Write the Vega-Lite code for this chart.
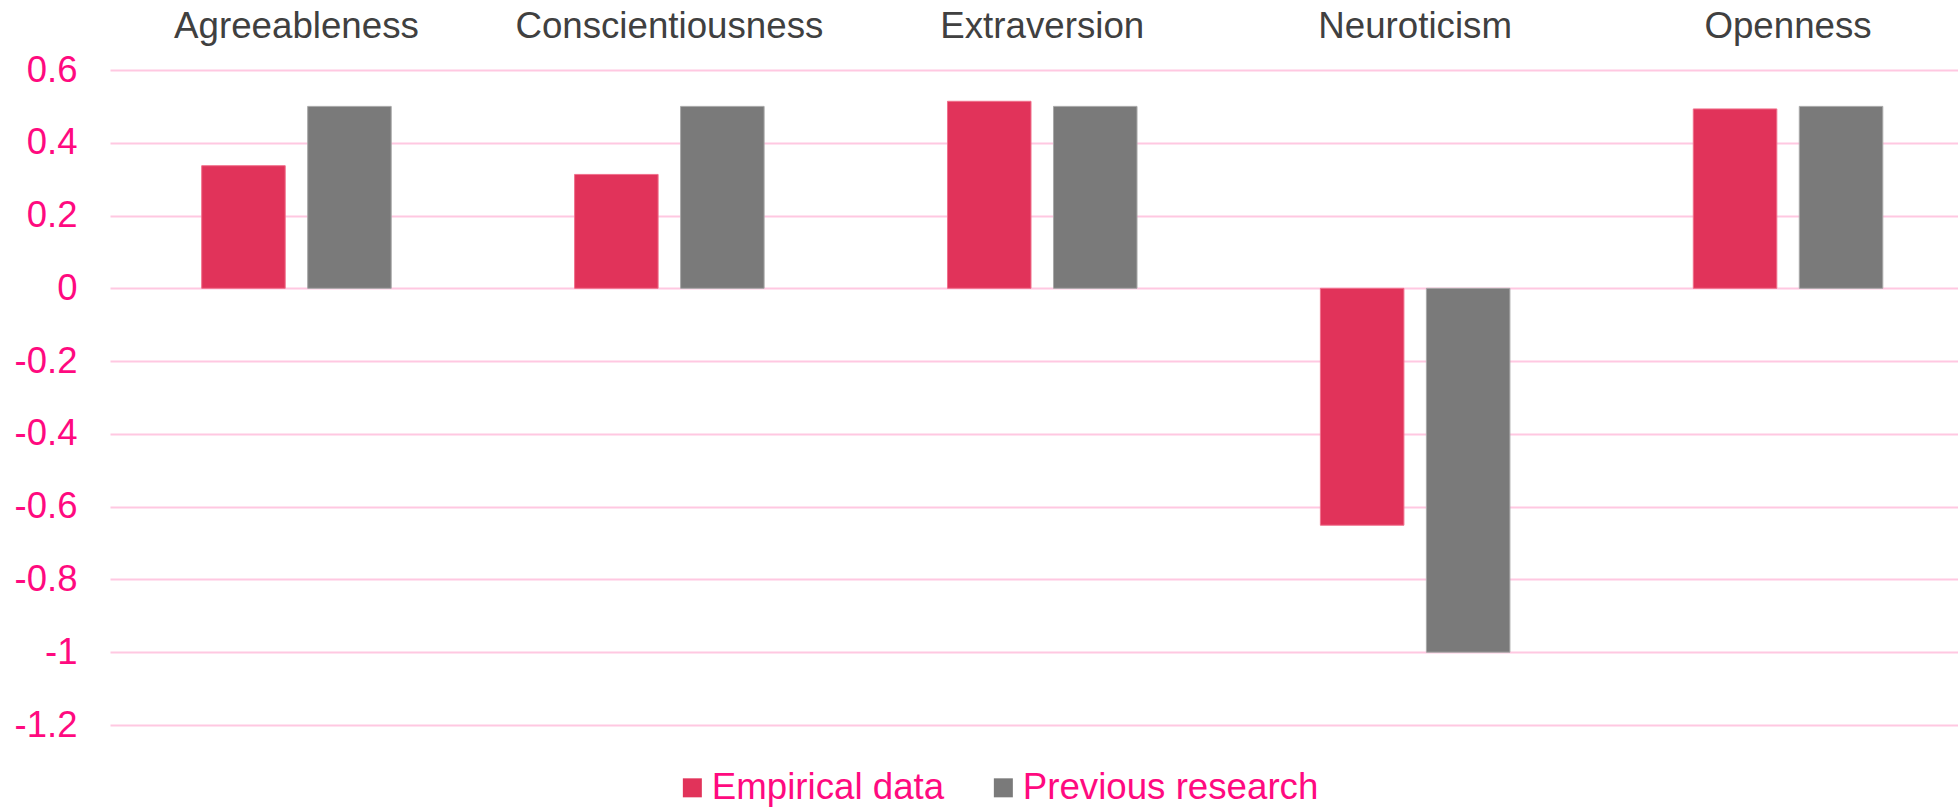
{
  "$schema": "https://vega.github.io/schema/vega-lite/v6.json",
  "width": 1848,
  "height": 655,
  "autosize": {"type": "none"},
  "padding": {"left": 110, "top": 70, "right": 0, "bottom": 82},
  "background": "white",
  "data": {
    "values": [
      {"trait": "Agreeableness", "series": "Empirical data", "value": 0.337},
      {"trait": "Agreeableness", "series": "Previous research", "value": 0.5},
      {"trait": "Conscientiousness", "series": "Empirical data", "value": 0.313},
      {"trait": "Conscientiousness", "series": "Previous research", "value": 0.5},
      {"trait": "Extraversion", "series": "Empirical data", "value": 0.514},
      {"trait": "Extraversion", "series": "Previous research", "value": 0.5},
      {"trait": "Neuroticism", "series": "Empirical data", "value": -0.651},
      {"trait": "Neuroticism", "series": "Previous research", "value": -1.0},
      {"trait": "Openness", "series": "Empirical data", "value": 0.493},
      {"trait": "Openness", "series": "Previous research", "value": 0.5}
    ]
  },
  "mark": {"type": "bar", "strokeWidth": 1},
  "encoding": {
    "x": {
      "field": "trait",
      "type": "nominal",
      "sort": null,
      "scale": {"range": [0, 1864.5], "paddingInner": 0, "paddingOuter": 0},
      "axis": {
        "orient": "top",
        "title": null,
        "domain": false,
        "ticks": false,
        "tickSize": 0,
        "labelPadding": 25,
        "labelAngle": 0,
        "labelLimit": 0,
        "labelFont": "Liberation Sans",
        "labelFontSize": 36.7,
        "labelColor": "#404040",
        "grid": false
      }
    },
    "xOffset": {
      "field": "series",
      "type": "nominal",
      "scale": {"paddingInner": 0.212, "paddingOuter": 0.865}
    },
    "y": {
      "field": "value",
      "type": "quantitative",
      "scale": {"domain": [-1.2, 0.6], "nice": false, "zero": false},
      "axis": {
        "title": null,
        "values": [-1.2, -1, -0.8, -0.6, -0.4, -0.2, 0, 0.2, 0.4, 0.6],
        "labelExpr": "'' + round(datum.value * 10) / 10",
        "domain": false,
        "ticks": false,
        "tickSize": 0,
        "labelPadding": 33,
        "labelLimit": 0,
        "labelFont": "Liberation Sans",
        "labelFontSize": 36.5,
        "labelColor": "#FF0A7F",
        "grid": true,
        "gridColor": "#FFC8E1",
        "gridWidth": 2
      }
    },
    "color": {
      "field": "series",
      "type": "nominal",
      "scale": {"domain": ["Empirical data", "Previous research"], "range": ["#E1335A", "#7A7A7A"]},
      "legend": {
        "title": null,
        "orient": "none",
        "direction": "horizontal",
        "legendX": 564,
        "legendY": 699,
        "symbolType": "square",
        "symbolSize": 361,
        "symbolStrokeWidth": 0,
        "labelFont": "Liberation Sans",
        "labelFontSize": 36.7,
        "labelLimit": 0,
        "labelColor": "#FF0A7F",
        "labelOffset": 1,
        "columnPadding": 40,
        "padding": 0
      }
    },
    "stroke": {
      "field": "series",
      "type": "nominal",
      "scale": {"domain": ["Empirical data", "Previous research"], "range": ["#F0708C", "#A8A8A8"]},
      "legend": null
    }
  },
  "config": {"view": {"stroke": null}}
}
